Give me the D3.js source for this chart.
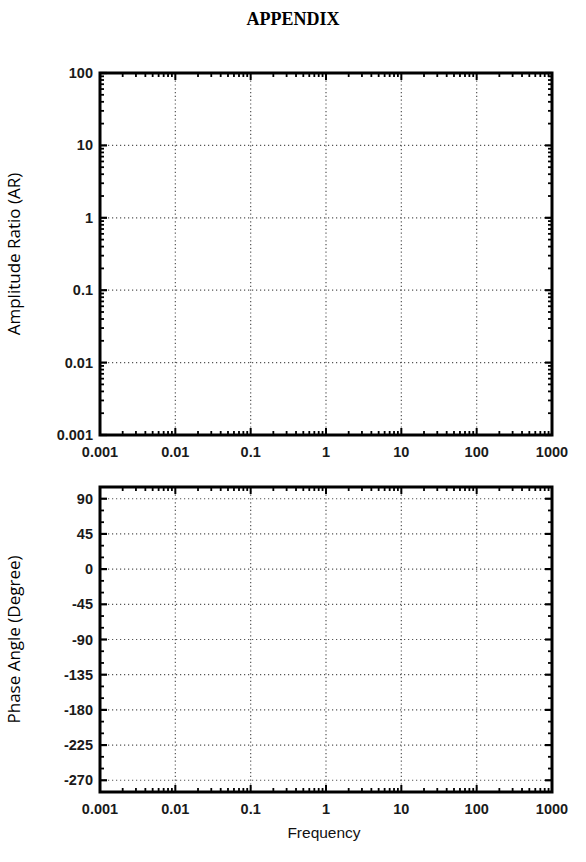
<!DOCTYPE html>
<html>
<head>
<meta charset="utf-8">
<script src="https://cdn.jsdelivr.net/npm/d3@7"></script>
<style>
  html, body { margin: 0; padding: 0; background: #fff; }
  svg { display: block; }
</style>
</head>
<body>
<svg id="chart" width="586" height="862"></svg>
<script>
// ---- data (tick values / labels) ----
const freqTicks = [0.001, 0.01, 0.1, 1, 10, 100, 1000];
const freqLabels = ["0.001", "0.01", "0.1", "1", "10", "100", "1000"];
const arTicks = [0.001, 0.01, 0.1, 1, 10, 100];
const arLabels = ["0.001", "0.01", "0.1", "1", "10", "100"];
const phaseTicks = [90, 45, 0, -45, -90, -135, -180, -225, -270];
const phaseDomain = [-285, 105];

const svg = d3.select("#chart");
const left = 100, right = 552;

// title
svg.append("text").attr("x", 293).attr("y", 25)
  .attr("text-anchor", "middle")
  .style("font-family", "'Liberation Serif', serif")
  .style("font-weight", "bold").style("font-size", "18px")
  .text("APPENDIX");

function minorLog(domain) {
  const out = [];
  for (let e = Math.log10(domain[0]); e < Math.log10(domain[1]); e++) {
    for (let m = 2; m <= 9; m++) out.push(m * Math.pow(10, e));
  }
  return out;
}

const tickFont = "'Liberation Sans', Arial, sans-serif";

function panel(top, bottom, yScaleType, yTicks, yLabels, yMinor, yTitle) {
  const x = d3.scaleLog().domain([0.001, 1000]).range([left, right]);
  let y;
  if (yScaleType === "log") y = d3.scaleLog().domain([0.001, 100]).range([bottom, top]);
  else y = d3.scaleLinear().domain(phaseDomain).range([bottom, top]);

  const g = svg.append("g");
  const gridColor = "#555";

  // grid lines
  g.selectAll(".vg").data(freqTicks.slice(1, -1)).join("line")
    .attr("x1", d => x(d)).attr("x2", d => x(d))
    .attr("y1", top).attr("y2", bottom)
    .attr("stroke", gridColor).attr("stroke-width", 1.2)
    .attr("stroke-dasharray", "1.2,2.6");
  g.selectAll(".hg").data(yTicks.filter(d => y(d) > top + 2 && y(d) < bottom - 2)).join("line")
    .attr("x1", left).attr("x2", right)
    .attr("y1", d => y(d)).attr("y2", d => y(d))
    .attr("stroke", gridColor).attr("stroke-width", 1.2)
    .attr("stroke-dasharray", "1.2,2.8");

  // minor ticks along x (top & bottom, inward)
  const xm = minorLog([0.001, 1000]);
  g.selectAll(".xmb").data(xm).join("line")
    .attr("x1", d => x(d)).attr("x2", d => x(d))
    .attr("y1", bottom).attr("y2", bottom - 4)
    .attr("stroke", "#000").attr("stroke-width", 1.8);
  g.selectAll(".xmt").data(xm).join("line")
    .attr("x1", d => x(d)).attr("x2", d => x(d))
    .attr("y1", top).attr("y2", top + 4)
    .attr("stroke", "#000").attr("stroke-width", 1.8);
  // major ticks x
  g.selectAll(".xMb").data(freqTicks).join("line")
    .attr("x1", d => x(d)).attr("x2", d => x(d))
    .attr("y1", bottom).attr("y2", bottom - 7)
    .attr("stroke", "#000").attr("stroke-width", 2);
  g.selectAll(".xMt").data(freqTicks).join("line")
    .attr("x1", d => x(d)).attr("x2", d => x(d))
    .attr("y1", top).attr("y2", top + 7)
    .attr("stroke", "#000").attr("stroke-width", 2);

  // minor ticks along y (left & right)
  g.selectAll(".yml").data(yMinor).join("line")
    .attr("x1", left).attr("x2", left + 4)
    .attr("y1", d => y(d)).attr("y2", d => y(d))
    .attr("stroke", "#000").attr("stroke-width", 1.8);
  g.selectAll(".ymr").data(yMinor).join("line")
    .attr("x1", right).attr("x2", right - 4)
    .attr("y1", d => y(d)).attr("y2", d => y(d))
    .attr("stroke", "#000").attr("stroke-width", 1.8);
  g.selectAll(".yMl").data(yTicks).join("line")
    .attr("x1", left).attr("x2", left + 7)
    .attr("y1", d => y(d)).attr("y2", d => y(d))
    .attr("stroke", "#000").attr("stroke-width", 2.2);
  g.selectAll(".yMr").data(yTicks).join("line")
    .attr("x1", right).attr("x2", right - 7)
    .attr("y1", d => y(d)).attr("y2", d => y(d))
    .attr("stroke", "#000").attr("stroke-width", 2.2);

  // frame
  g.append("rect").attr("x", left).attr("y", top)
    .attr("width", right - left).attr("height", bottom - top)
    .attr("fill", "none").attr("stroke", "#000").attr("stroke-width", 3);

  // y labels
  g.selectAll(".yl").data(yTicks).join("text")
    .attr("x", 93).attr("y", d => y(d) + 5)
    .attr("text-anchor", "end")
    .style("font-family", tickFont)
    .style("font-size", "14.5px").style("font-weight", "bold")
    .attr("fill", "#1a1a1a")
    .text((d, i) => yLabels[i]);

  // x labels
  g.selectAll(".xl").data(freqTicks).join("text")
    .attr("x", d => x(d)).attr("y", bottom + 22)
    .attr("text-anchor", "middle")
    .style("font-family", tickFont)
    .style("font-size", "14.5px").style("font-weight", "bold")
    .attr("fill", "#1a1a1a")
    .text((d, i) => freqLabels[i]);

  // y title
  svg.append("text")
    .attr("transform", `translate(20,${(top + bottom) / 2}) rotate(-90)`)
    .attr("text-anchor", "middle")
    .style("font-family", "'Open Sans', 'Noto Sans', sans-serif")
    .style("font-size", "17px")
    .text(yTitle);
}

panel(73, 435, "log", arTicks, arLabels, minorLog([0.001, 100]), "Amplitude Ratio (AR)");

const phaseMinor = d3.range(-285, 106, 15).filter(d => !phaseTicks.includes(d));
panel(487, 792, "lin", phaseTicks, phaseTicks.map(String), phaseMinor, "Phase Angle (Degree)");

svg.append("text").attr("x", 324).attr("y", 838)
  .attr("text-anchor", "middle")
  .style("font-family", tickFont)
  .style("font-size", "15.5px")
  .attr("fill", "#111")
  .text("Frequency");
</script>
</body>
</html>
